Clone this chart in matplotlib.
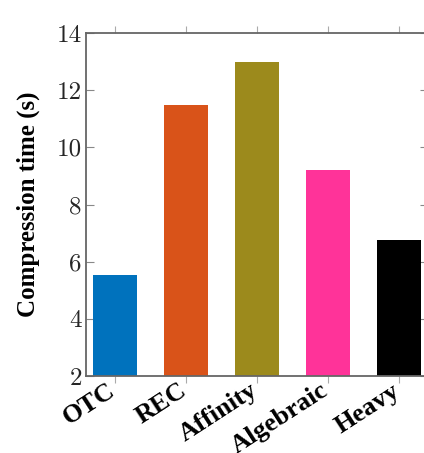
import matplotlib.pyplot as plt
import matplotlib.transforms as mtransforms
import numpy as np

plt.rcParams['axes.formatter.use_mathtext'] = True

methods = ['OTC', 'REC', 'Affinity', 'Algebraic', 'Heavy']
times = [5.55, 11.47, 13.0, 9.2, 6.75]
colors = ['#0072BD', '#D95319', '#9C8A1C', '#FF3399', '#000000']
yticks = [2, 4, 6, 8, 10, 12, 14]

fig = plt.figure(figsize=(4.24, 4.53), dpi=100)
# the right edge of the axes sits just past the picture, as in the original
ax = fig.add_axes([86 / 424, 1 - 376 / 453, (428 - 86) / 424, (376 - 33) / 453])

x = np.arange(len(methods))
ax.bar(x, times, width=0.62, color=colors, zorder=2)

ax.set_xlim(-0.41, 4.41)
ax.set_ylim(2, 14)
ax.set_yticks(yticks)
ax.set_yticklabels([str(t) for t in yticks], fontname='cmr10', fontsize=18, color='#262626')
ax.set_xticks(x)
ax.set_xticklabels([])

# rotated category labels, set a bit left of their ticks like the original
trans = ax.get_xaxis_transform() + mtransforms.ScaledTranslation(
    -8 / 100, -3 / 100, fig.dpi_scale_trans)
for xi, name in zip(x, methods):
    ax.text(xi, 0, name, transform=trans, fontname='Liberation Serif',
            fontweight='bold', fontsize=19, rotation=33, ha='right', va='top',
            rotation_mode='anchor')

ax.tick_params(axis='y', direction='in', left=True, right=True, length=6,
               width=0.8, color='#888888', pad=3)
ax.tick_params(axis='x', direction='out', top=True, bottom=True, length=5,
               width=0.8, color='#aaaaaa')
ax.set_ylabel('Compression time (s)', fontname='Liberation Serif',
              fontweight='bold', fontsize=18, labelpad=12)

for s in ax.spines.values():
    s.set_color('#666666')
    s.set_linewidth(1.3)

plt.savefig('out.png')
